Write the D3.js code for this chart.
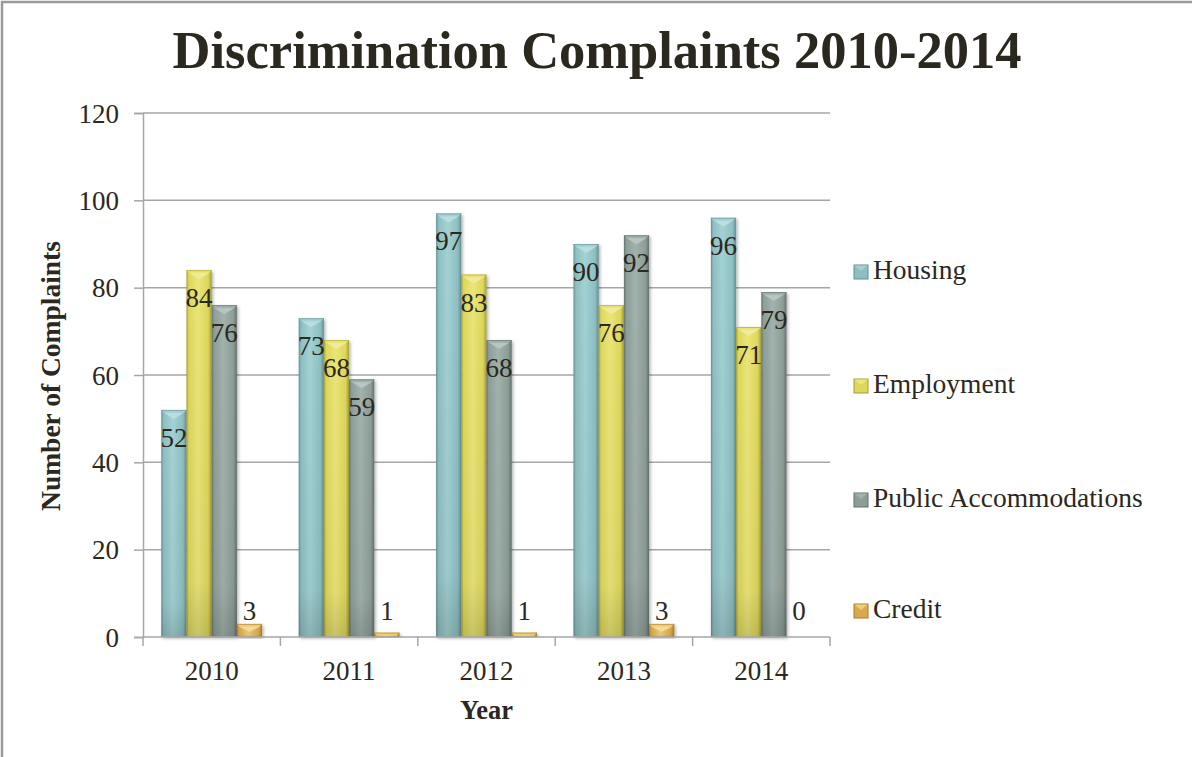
<!DOCTYPE html>
<html>
<head>
<meta charset="utf-8">
<script src="https://cdn.jsdelivr.net/npm/d3@7"></script>
<style>
  html, body { margin: 0; padding: 0; background: #fff; }
  svg { display: block; }
  text { font-family: "Liberation Serif", "Times New Roman", serif; fill: #2b2820; }
</style>
</head>
<body>
<svg id="chart" width="1192" height="757"></svg>
<script>
const years = ["2010", "2011", "2012", "2013", "2014"];
const seriesNames = ["Housing", "Employment", "Public Accommodations", "Credit"];
const housing = [52, 73, 97, 90, 96];
const employment = [84, 68, 83, 76, 71];
const publicAccommodations = [76, 59, 68, 92, 79];
const credit = [3, 1, 1, 3, 0];
const yTicks = [0, 20, 40, 60, 80, 100, 120];
const titleText = "Discrimination Complaints 2010-2014";
const xTitle = "Year";
const yTitle = "Number of Complaints";

const seriesValues = [housing, employment, publicAccommodations, credit];
const palette = [
  { mid: "#8dbfc2", light: "#a4d2d4", dark: "#638f92" },
  { mid: "#ddd75a", light: "#ebe57a", dark: "#a59e36" },
  { mid: "#8d9d98", light: "#a2b2ad", dark: "#63716c" },
  { mid: "#d9aa4c", light: "#f0cf7c", dark: "#a97c2a" }
];

const svg = d3.select("#chart");
const W = 1192, H = 757;
const m = { left: 143, right: 830, top: 113, bottom: 637 };

// border
svg.append("path")
  .attr("d", `M2,${H} L2,2 L${W},2`)
  .attr("fill", "none").attr("stroke", "#9a9a9a").attr("stroke-width", 2.5);

const defs = svg.append("defs");
palette.forEach((c, i) => {
  const g = defs.append("linearGradient").attr("id", "grad" + i)
    .attr("x1", "0").attr("x2", "1").attr("y1", "0").attr("y2", "0");
  g.append("stop").attr("offset", "0%").attr("stop-color", c.dark);
  g.append("stop").attr("offset", "9%").attr("stop-color", c.mid);
  g.append("stop").attr("offset", "45%").attr("stop-color", c.light);
  g.append("stop").attr("offset", "86%").attr("stop-color", c.mid);
  g.append("stop").attr("offset", "100%").attr("stop-color", c.dark);
  const v = defs.append("linearGradient").attr("id", "vgrad" + i)
    .attr("x1", "0").attr("x2", "0").attr("y1", "0").attr("y2", "1");
  v.append("stop").attr("offset", "0%").attr("stop-color", "#000").attr("stop-opacity", 0);
  v.append("stop").attr("offset", "85%").attr("stop-color", "#000").attr("stop-opacity", 0.04);
  v.append("stop").attr("offset", "100%").attr("stop-color", "#000").attr("stop-opacity", 0.15);
});
const sh = defs.append("filter").attr("id", "shadow").attr("x", "-20%").attr("y", "-5%").attr("width", "150%").attr("height", "115%");
sh.append("feDropShadow").attr("dx", 1.5).attr("dy", 1.5).attr("stdDeviation", 1.5)
  .attr("flood-color", "#000").attr("flood-opacity", 0.3);

const x0 = d3.scaleBand().domain(years).range([m.left, m.right]).padding(0);
const x1 = d3.scaleBand().domain(seriesNames).range([0, x0.bandwidth()])
  .paddingInner(0).paddingOuter(0.726);
const y = d3.scaleLinear().domain([0, 120]).range([m.bottom, m.top]);

// gridlines
svg.append("g").selectAll("line").data(yTicks.filter(t => t > 0)).join("line")
  .attr("x1", m.left).attr("x2", m.right)
  .attr("y1", d => y(d)).attr("y2", d => y(d))
  .attr("stroke", "#a6a6a6").attr("stroke-width", 1.5);

// y axis
const yAxis = svg.append("g").attr("transform", `translate(${m.left},0)`)
  .call(d3.axisLeft(y).tickValues(yTicks).tickSize(9).tickPadding(15).tickFormat(d3.format("d")));
yAxis.select(".domain").attr("stroke", "#a6a6a6").attr("stroke-width", 1.5);
yAxis.selectAll(".tick line").attr("stroke", "#a6a6a6").attr("stroke-width", 1.5);
yAxis.selectAll(".tick text").style("font-family", '"Liberation Serif", serif')
  .style("font-size", "27px").attr("fill", "#2b2820").attr("dy", "0.34em");

// bars
const barsG = svg.append("g");
years.forEach((yr, yi) => {
  seriesNames.forEach((s, si) => {
    const v = seriesValues[si][yi];
    const bx = x0(yr) + x1(s);
    const bw = x1.bandwidth();
    const top = y(v);
    const h = y(0) - top;
    if (h > 0) {
      const g = barsG.append("g");
      g.append("rect").attr("x", bx).attr("y", top).attr("width", bw).attr("height", h)
        .attr("fill", `url(#grad${si})`).attr("filter", "url(#shadow)");
      g.append("rect").attr("x", bx).attr("y", top).attr("width", bw).attr("height", h)
        .attr("fill", `url(#vgrad${si})`);
      const bev = Math.min(9, h * 0.6);
      const c = palette[si];
      // top bevel
      g.append("polygon")
        .attr("points", [[bx, top], [bx + bw, top], [bx + bw - 3, top + Math.min(3, h)], [bx + bw / 2, top + bev], [bx + 3, top + Math.min(3, h)]].map(p => p.join(",")).join(" "))
        .attr("fill", c.light).attr("opacity", 0.95);
      g.append("polygon")
        .attr("points", [[bx + 3, top + Math.min(3, h)], [bx + bw - 3, top + Math.min(3, h)], [bx + bw / 2, top + bev]].map(p => p.join(",")).join(" "))
        .attr("fill", "#fff").attr("opacity", 0.25);
      g.append("line").attr("x1", bx).attr("x2", bx + bw).attr("y1", top + 0.5).attr("y2", top + 0.5)
        .attr("stroke", c.dark).attr("stroke-width", 1).attr("opacity", 0.6);
    }
  });
});

// x axis
const xAxis = svg.append("g").attr("transform", `translate(0,${m.bottom})`);
xAxis.append("line").attr("x1", m.left).attr("x2", m.right).attr("y1", 0).attr("y2", 0)
  .attr("stroke", "#a6a6a6").attr("stroke-width", 1.5);
const bounds = years.map(d => x0(d)).concat([m.right]);
xAxis.selectAll("line.tk").data(bounds).join("line").attr("class", "tk")
  .attr("x1", d => d).attr("x2", d => d).attr("y1", 0).attr("y2", 9)
  .attr("stroke", "#a6a6a6").attr("stroke-width", 1.5);
xAxis.selectAll("text.lbl").data(years).join("text").attr("class", "lbl")
  .attr("x", d => x0(d) + x0.bandwidth() / 2).attr("y", 43)
  .attr("text-anchor", "middle").style("font-size", "27px").text(d => d);

// data labels
const labelsG = svg.append("g");
years.forEach((yr, yi) => {
  seriesNames.forEach((s, si) => {
    const v = seriesValues[si][yi];
    const bx = x0(yr) + x1(s) + x1.bandwidth() / 2;
    const h = y(0) - y(v);
    const by = h > 40 ? y(v) + 37 : y(0) - 17;
    labelsG.append("text").attr("x", bx).attr("y", by).attr("text-anchor", "middle")
      .style("font-size", "27px").attr("fill", "#2b2820").text(v);
  });
});

// title
svg.append("text").attr("x", 597).attr("y", 68).attr("text-anchor", "middle")
  .style("font-size", "52.5px").style("font-weight", "bold").text(titleText);

// axis titles
svg.append("text").attr("x", (m.left + m.right) / 2).attr("y", 719).attr("text-anchor", "middle")
  .style("font-size", "26.5px").style("font-weight", "bold").text(xTitle);
svg.append("text").attr("transform", `translate(60,${(m.top + m.bottom) / 2 + 1}) rotate(-90)`)
  .attr("text-anchor", "middle").style("font-size", "27.5px").style("font-weight", "bold").text(yTitle);

// legend
const legBase = [279, 393, 507, 618];
const leg = svg.append("g");
seriesNames.forEach((s, i) => {
  const c = palette[i];
  const gy = legBase[i];
  leg.append("rect").attr("x", 854).attr("y", gy - 14).attr("width", 14).attr("height", 14)
    .attr("fill", c.mid).attr("stroke", c.dark).attr("stroke-width", 1);
  leg.append("polygon")
    .attr("points", [[854.5, gy - 13.5], [867.5, gy - 13.5], [861, gy - 8]].map(p => p.join(",")).join(" "))
    .attr("fill", c.light);
  leg.append("text").attr("x", 873).attr("y", gy).style("font-size", "27.5px").text(s);
});
</script>
</body>
</html>
